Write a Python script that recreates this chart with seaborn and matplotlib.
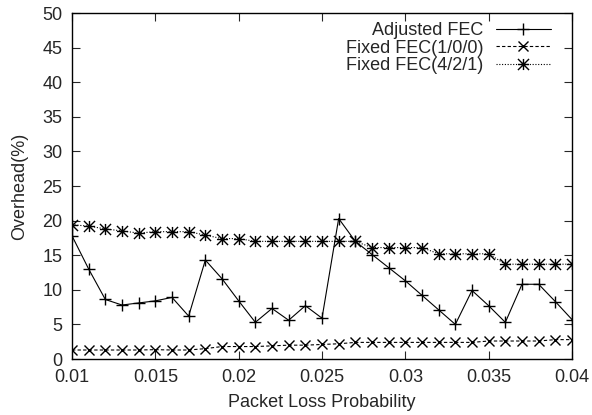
import numpy as np
import pandas as pd
import matplotlib
matplotlib.use('Agg')
import matplotlib.pyplot as plt
import seaborn as sns
from matplotlib.path import Path

# Packet loss probabilities 0.010 .. 0.040
loss = [0.010, 0.011, 0.012, 0.013, 0.014, 0.015, 0.016, 0.017, 0.018, 0.019,
        0.020, 0.021, 0.022, 0.023, 0.024, 0.025, 0.026, 0.027, 0.028, 0.029,
        0.030, 0.031, 0.032, 0.033, 0.034, 0.035, 0.036, 0.037, 0.038, 0.039, 0.040]

adjusted = [17.8, 13.0, 8.6, 7.8, 8.1, 8.4, 8.9, 6.2, 14.3, 11.6,
            8.4, 5.3, 7.3, 5.6, 7.7, 5.9, 20.3, 17.0, 15.1, 13.2,
            11.3, 9.2, 7.1, 5.0, 9.9, 7.7, 5.3, 10.8, 10.8, 8.3, 5.7]

fixed_100 = [1.3, 1.3, 1.3, 1.3, 1.3, 1.35, 1.3, 1.3, 1.5, 1.8,
             1.8, 1.8, 1.9, 2.0, 2.0, 2.1, 2.2, 2.4, 2.4, 2.4,
             2.4, 2.4, 2.4, 2.4, 2.4, 2.6, 2.6, 2.6, 2.6, 2.8, 2.8]

fixed_421 = [19.4, 19.2, 18.8, 18.5, 18.2, 18.4, 18.4, 18.4, 17.9, 17.4,
             17.4, 17.0, 17.0, 17.0, 17.0, 17.0, 17.0, 17.0, 16.1, 16.1,
             16.1, 16.1, 15.2, 15.2, 15.2, 15.2, 13.7, 13.7, 13.7, 13.7, 13.7]

labels = ['Adjusted FEC', 'Fixed FEC(1/0/0)', 'Fixed FEC(4/2/1)']
xticks = [0.01, 0.015, 0.02, 0.025, 0.03, 0.035, 0.04]
xticklabels = ['0.01', '0.015', '0.02', '0.025', '0.03', '0.035', '0.04']

sns.set_style('ticks')
plt.rcParams['font.family'] = ['Liberation Sans', 'DejaVu Sans']
plt.rcParams['font.size'] = 13

# gnuplot style asterisk: + and x together
star = Path([(-1, 0), (1, 0), (0, -1), (0, 1), (-1, -1), (1, 1), (-1, 1), (1, -1)],
            [Path.MOVETO, Path.LINETO] * 4)

fig = plt.figure(figsize=(5.92, 4.15), dpi=100)
ax = fig.add_axes([72/592, 56/415, 500/592, 346/415])

df = pd.DataFrame({'loss': loss, 'adj': adjusted, 'f100': fixed_100, 'f421': fixed_421})

sns.lineplot(data=df, x='loss', y='adj', ax=ax, color='black', lw=0.8,
             marker='+', markersize=9, markeredgewidth=1, markeredgecolor='black',
             label=labels[0])
sns.lineplot(data=df, x='loss', y='f100', ax=ax, color='black', lw=0.8,
             linestyle=(0, (3, 2)), marker='x', markersize=7.5, markeredgewidth=1,
             markeredgecolor='black', label=labels[1])
sns.lineplot(data=df, x='loss', y='f421', ax=ax, color='black', lw=0.8,
             linestyle=(0, (1, 1.5)), marker=star, markersize=8, markeredgewidth=1,
             markeredgecolor='black', markerfacecolor='none', label=labels[2])

ax.set_xlim(0.01, 0.04)
ax.set_ylim(0, 50)
ax.set_xticks(xticks)
ax.set_xticklabels(xticklabels)
ax.set_yticks(range(0, 51, 5))
ax.tick_params(direction='in', length=6, width=0.8, top=True, right=True,
               labelsize=13)
ax.tick_params(axis='x', pad=7)
ax.tick_params(axis='y', pad=7)
for s in ax.spines.values():
    s.set_linewidth(1)
    s.set_color('black')
ax.set_xlabel('Packet Loss Probability', fontsize=13, labelpad=6)
ax.set_ylabel('Overhead(%)', fontsize=13, labelpad=10)

ax.legend(loc='upper right', bbox_to_anchor=(0.976, 1.0), frameon=False,
          markerfirst=False, handlelength=3.05, handletextpad=0.7,
          labelspacing=0.03, borderpad=0.0, fontsize=13)

fig.savefig('out.png', dpi=100)
